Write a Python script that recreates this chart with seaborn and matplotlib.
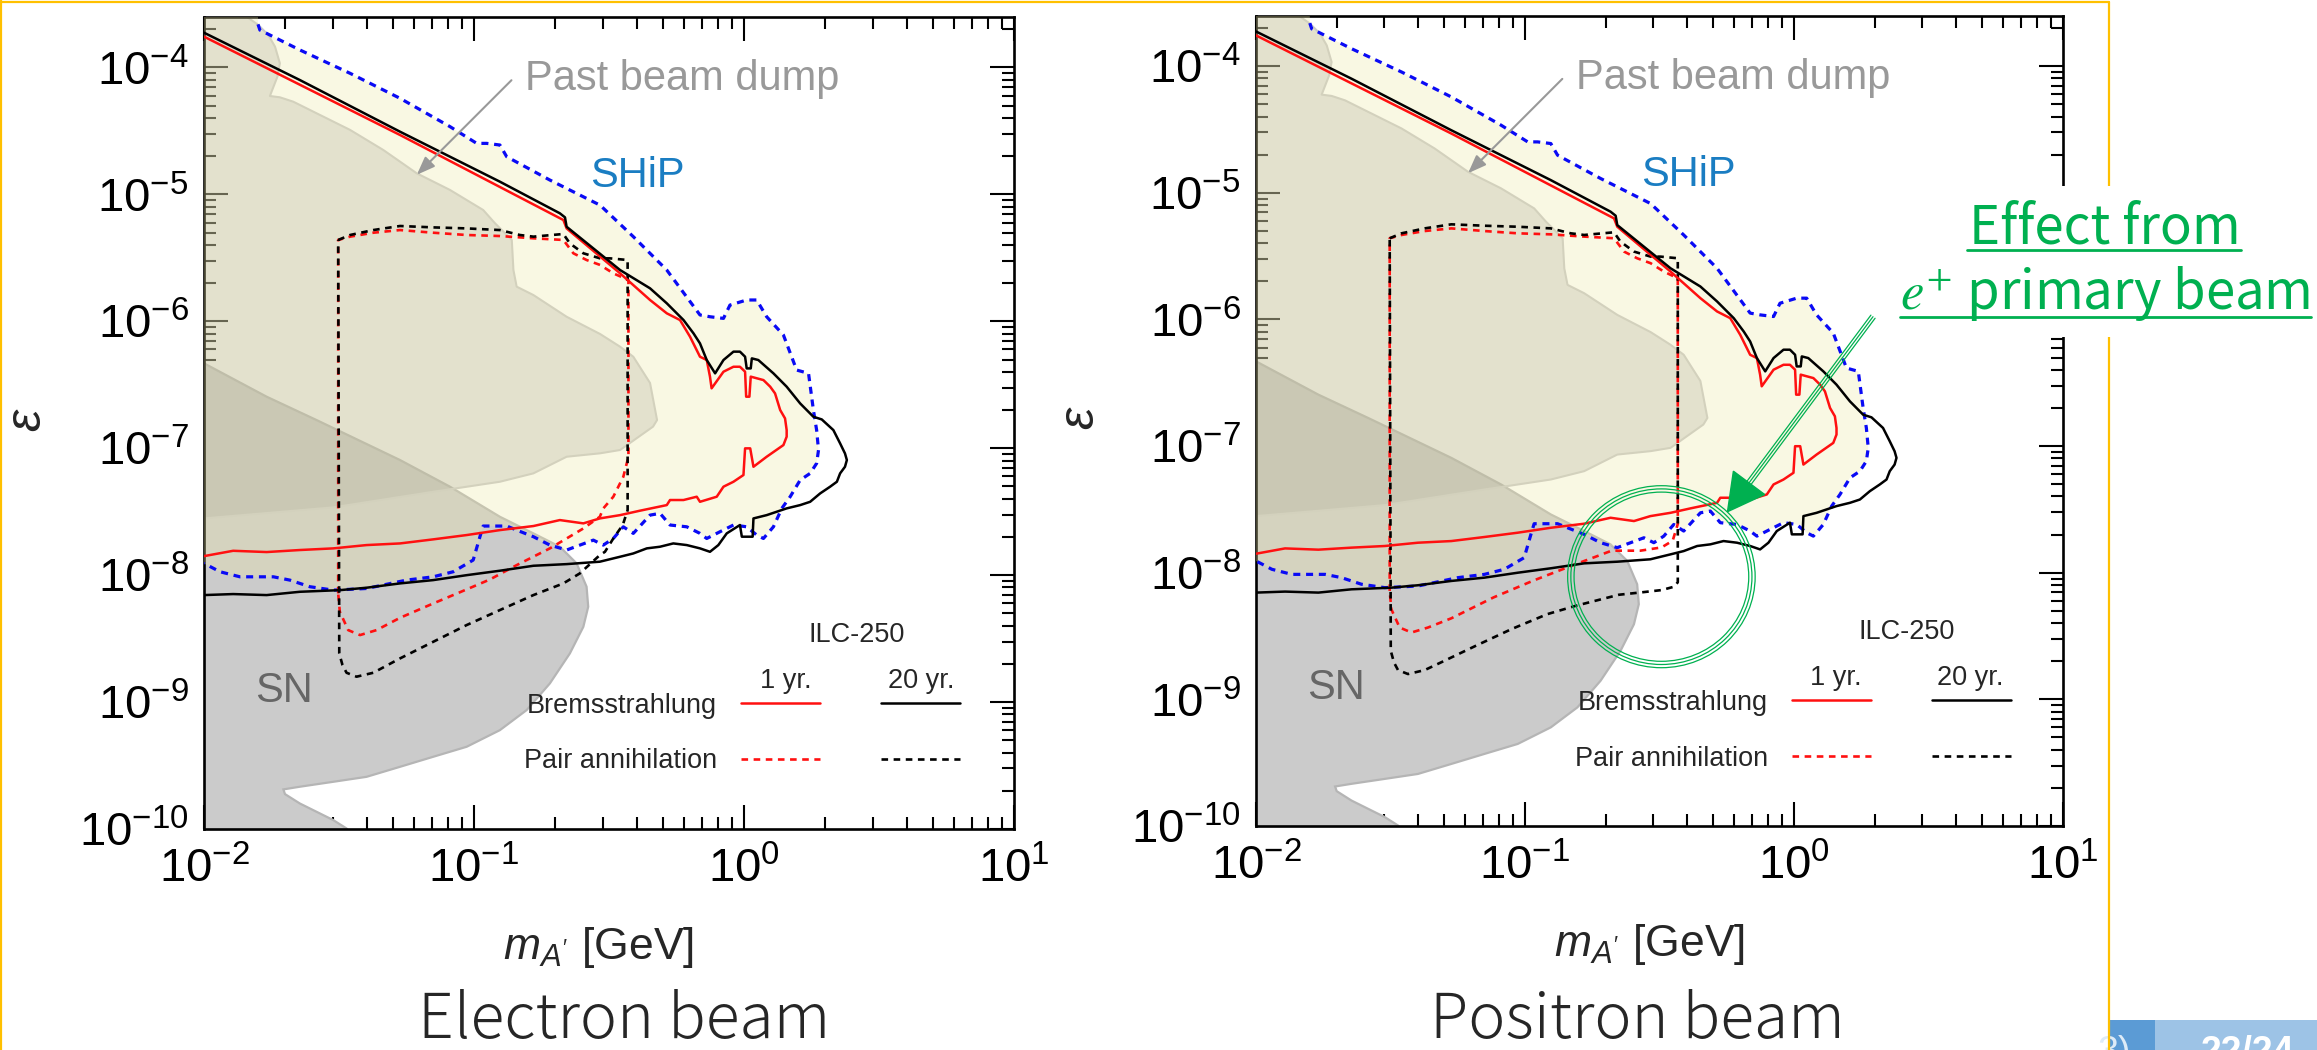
"""
Dark photon reach at ILC-250 beam dump: electron vs positron primary beam.
Two log-log panels (m_A' vs epsilon) with SHiP / past beam dump / SN regions.
"""
import numpy as np
import matplotlib
matplotlib.use("Agg")
import matplotlib.pyplot as plt
import seaborn as sns
from matplotlib.patches import Rectangle, Ellipse, Polygon
from matplotlib.lines import Line2D

sns.set_style("ticks")
plt.rcParams["font.family"] = ["Liberation Sans", "DejaVu Sans"]
plt.rcParams["mathtext.fontset"] = "custom"
plt.rcParams["mathtext.rm"] = "Liberation Sans"
plt.rcParams["mathtext.it"] = "Liberation Sans:italic"
plt.rcParams["mathtext.bf"] = "Liberation Sans:bold"

W, H = 2317, 1050

# ---------------- DATA (log10 of m_A' [GeV] and log10 of epsilon) ----------------
# SHiP projected reach (blue dotted contour, filled light yellow)
ship_logm = [-1.80, -1.793, -1.645, -1.459, -1.274, -1.089, -0.990, -0.953, -0.904, -0.879, -0.719,
             -0.533, -0.410, -0.286, -0.163, -0.126, -0.076, -0.052, 0.010, 0.047, 0.084, 0.146, 0.195,
             0.239, 0.257, 0.269, 0.276, 0.269, 0.245, 0.208, 0.171, 0.140, 0.109, 0.072, 0.047, 0.010,
             -0.039, -0.089, -0.138, -0.163, -0.212, -0.274, -0.311, -0.348, -0.410, -0.447, -0.484,
             -0.521, -0.558, -0.657, -0.719, -0.780, -0.842, -0.879, -0.966, -0.978, -1.003, -1.077,
             -1.151, -1.250, -1.398, -1.521, -1.608, -1.682, -1.743, -1.867, -1.941, -2.0]
ship_logeps = [-3.66, -3.705, -3.862, -4.046, -4.243, -4.466, -4.598, -4.598, -4.611, -4.703, -4.887,
               -5.085, -5.333, -5.596, -5.950, -5.964, -5.977, -5.872, -5.832, -5.832, -5.964, -6.108,
               -6.384, -6.410, -6.699, -6.857, -7.014, -7.119, -7.198, -7.251, -7.382, -7.474, -7.619,
               -7.711, -7.684, -7.619, -7.605, -7.658, -7.711, -7.671, -7.619, -7.605, -7.513, -7.527,
               -7.671, -7.619, -7.711, -7.763, -7.724, -7.802, -7.763, -7.697, -7.645, -7.613, -7.613,
               -7.697, -7.881, -7.973, -8.013, -8.039, -8.105, -8.118, -8.091, -8.039, -8.013, -8.013,
               -7.973, -7.907]

# Past beam dump exclusion
dump_logm = [-2.2, -1.86, -1.842, -1.799, -1.762, -1.737, -1.719, -1.728, -1.756, -1.719, -1.669,
             -1.583, -1.459, -1.336, -1.212, -1.089, -0.966, -0.922, -0.860, -0.854, -0.842, -0.780,
             -0.657, -0.533, -0.459, -0.410, -0.348, -0.322, -0.337, -0.410, -0.459, -0.533, -0.657,
             -0.780, -0.904, -1.151, -1.521, -2.0, -2.2]
dump_logeps = [-3.5, -3.5, -3.600, -3.665, -3.744, -3.836, -3.967, -4.072, -4.225, -4.235, -4.270,
               -4.361, -4.492, -4.650, -4.834, -4.965, -5.123, -5.228, -5.359, -5.596, -5.727, -5.793,
               -5.964, -6.100, -6.200, -6.279, -6.486, -6.778, -6.830, -6.940, -7.014, -7.040, -7.067,
               -7.198, -7.264, -7.343, -7.466, -7.553, -7.56]

# Supernova exclusion (grey)
sn_logm = [-2.2, -2.0, -1.768, -1.583, -1.274, -1.089, -0.904, -0.780, -0.682, -0.620, -0.583,
           -0.577, -0.595, -0.645, -0.719, -0.805, -0.904, -1.027, -1.151, -1.274, -1.398, -1.521,
           -1.645, -1.706, -1.700, -1.645, -1.521, -1.472, -1.40, -2.2]
sn_logeps = [-6.25, -6.331, -6.594, -6.778, -7.093, -7.303, -7.540, -7.671, -7.776, -7.907, -8.091,
             -8.249, -8.407, -8.617, -8.853, -9.063, -9.221, -9.352, -9.431, -9.510, -9.589, -9.628,
             -9.667, -9.688, -9.725, -9.799, -9.930, -9.996, -10.2, -10.2]

# Bremsstrahlung, 20 yr (black solid)
brem20_logm = [-2.0, -1.645, -1.274, -0.904, -0.682, -0.663, -0.657, -0.459, -0.348, -0.286, -0.224,
               -0.187, -0.163, -0.138, -0.107, -0.076, -0.039, -0.015, 0.004, 0.010, 0.025, 0.029,
               0.053, 0.109, 0.158, 0.208, 0.257, 0.288, 0.331, 0.356, 0.374, 0.381, 0.374, 0.356,
               0.344, 0.319, 0.282, 0.245, 0.208, 0.158, 0.084, 0.035, 0.032, -0.008, -0.015, -0.064,
               -0.095, -0.126, -0.163, -0.212, -0.262, -0.311, -0.360, -0.410, -0.459, -0.534, -0.657,
               -0.780, -0.904, -1.027, -1.151, -1.274, -1.398, -1.496, -1.645, -1.768, -1.892, -2.0]
brem20_logeps = [-3.726, -4.099, -4.506, -4.900, -5.149, -5.181, -5.255, -5.596, -5.740, -5.858,
                 -5.990, -6.095, -6.174, -6.305, -6.410, -6.305, -6.239, -6.239, -6.279, -6.371,
                 -6.371, -6.292, -6.305, -6.410, -6.515, -6.647, -6.752, -6.773, -6.857, -6.962,
                 -7.041, -7.093, -7.146, -7.198, -7.264, -7.303, -7.356, -7.422, -7.448, -7.474,
                 -7.527, -7.553, -7.697, -7.697, -7.605, -7.671, -7.763, -7.816, -7.789, -7.763,
                 -7.750, -7.776, -7.789, -7.829, -7.855, -7.894, -7.913, -7.926, -7.965, -8.000,
                 -8.039, -8.065, -8.099, -8.118, -8.131, -8.157, -8.149, -8.157]

# Bremsstrahlung, 1 yr (red solid)
brem1_logm = [-2.0, -1.274, -0.669, -0.657, -0.459, -0.348, -0.286, -0.237, -0.200, -0.163, -0.138,
              -0.126, -0.120, -0.076, -0.039, -0.015, 0.004, 0.008, 0.020, 0.025, 0.072, 0.097, 0.115,
              0.134, 0.152, 0.158, 0.158, 0.146, 0.084, 0.035, 0.023, 0.004, -0.002, -0.039, -0.076,
              -0.101, -0.163, -0.175, -0.224, -0.274, -0.286, -0.385, -0.459, -0.534, -0.595, -0.682,
              -0.780, -0.904, -1.027, -1.151, -1.274, -1.398, -1.521, -1.645, -1.768, -1.892, -2.0]
brem1_logeps = [-3.757, -4.532, -5.202, -5.268, -5.622, -5.832, -5.937, -5.990, -6.121, -6.279,
                -6.305, -6.436, -6.528, -6.397, -6.358, -6.358, -6.397, -6.594, -6.594, -6.436,
                -6.463, -6.515, -6.568, -6.699, -6.765, -6.857, -6.909, -6.975, -7.067, -7.146,
                -7.001, -7.001, -7.211, -7.264, -7.303, -7.382, -7.422, -7.382, -7.408, -7.408,
                -7.448, -7.492, -7.527, -7.553, -7.592, -7.566, -7.613, -7.645, -7.684, -7.718,
                -7.750, -7.763, -7.789, -7.802, -7.818, -7.808, -7.850]

# Pair annihilation, electron beam
pair1_e_logm = [-1.503, -1.503, -1.459, -1.373, -1.274, -1.151, -1.027, -0.904, -0.780, -0.669,
                -0.632, -0.583, -0.533, -0.484, -0.428, -0.428, -0.447, -0.484, -0.521, -0.534,
                -0.595, -0.657, -0.719, -0.842, -0.941, -1.027, -1.151, -1.274, -1.361, -1.422,
                -1.466, -1.497, -1.503]
pair1_e_logeps = [-8.144, -5.359, -5.333, -5.302, -5.281, -5.302, -5.320, -5.328, -5.346, -5.359,
                  -5.464, -5.517, -5.556, -5.622, -5.675, -7.067, -7.225, -7.382, -7.474, -7.540,
                  -7.632, -7.711, -7.789, -7.921, -8.034, -8.112, -8.223, -8.336, -8.433, -8.472,
                  -8.433, -8.288, -8.144]
pair20_e_logm = [-1.503, -1.459, -1.373, -1.274, -1.151, -1.027, -0.904, -0.830, -0.780, -0.669,
                 -0.645, -0.595, -0.533, -0.496, -0.431, -0.431, -0.449, -0.484, -0.515, -0.534,
                 -0.608, -0.669, -0.780, -0.904, -1.027, -1.151, -1.274, -1.373, -1.435, -1.472,
                 -1.487, -1.499, -1.503]
pair20_e_logeps = [-5.359, -5.320, -5.281, -5.249, -5.260, -5.268, -5.281, -5.320, -5.333, -5.312,
                   -5.386, -5.464, -5.504, -5.504, -5.517, -7.487, -7.605, -7.711, -7.816, -7.842,
                   -7.986, -8.065, -8.157, -8.275, -8.393, -8.525, -8.656, -8.769, -8.800, -8.769,
                   -8.709, -8.617, -5.359]

# Pair annihilation, positron beam
pair1_p_logm = [-1.503, -1.503, -1.459, -1.373, -1.274, -1.151, -1.027, -0.904, -0.780, -0.669,
                -0.632, -0.583, -0.533, -0.484, -0.432, -0.432, -0.451, -0.492, -0.571, -0.678,
                -0.744, -0.811, -0.970, -1.117, -1.274, -1.361, -1.422, -1.466, -1.497, -1.503]
pair1_p_logeps = [-8.144, -5.359, -5.333, -5.302, -5.281, -5.302, -5.320, -5.328, -5.346, -5.359,
                  -5.464, -5.517, -5.556, -5.622, -5.675, -7.615, -7.747, -7.800, -7.826, -7.826,
                  -7.879, -7.932, -8.063, -8.195, -8.360, -8.433, -8.472, -8.433, -8.288, -8.144]
pair20_p_logm = [-1.503, -1.459, -1.373, -1.274, -1.151, -1.027, -0.904, -0.830, -0.780, -0.669,
                 -0.645, -0.595, -0.533, -0.496, -0.432, -0.432, -0.445, -0.492, -0.571, -0.651,
                 -0.811, -0.917, -1.050, -1.183, -1.316, -1.373, -1.435, -1.472, -1.487, -1.499,
                 -1.503]
pair20_p_logeps = [-5.359, -5.320, -5.281, -5.249, -5.260, -5.268, -5.281, -5.320, -5.333, -5.312,
                   -5.386, -5.464, -5.504, -5.504, -5.517, -8.075, -8.110, -8.137, -8.156, -8.174,
                   -8.261, -8.327, -8.445, -8.577, -8.712, -8.769, -8.800, -8.769, -8.709, -8.617,
                   -5.359]

RED = "#FF1010"
BLUE = "#0A0AF5"
GREEN = "#00B050"


def lin(v):
    return 10.0 ** np.asarray(v, dtype=float)


def draw_panel(ax, p1_m, p1_e, p20_m, p20_e):
    ax.set_xscale("log")
    ax.set_yscale("log")

    # regions: SN, then past beam dump (translucent grey), then SHiP (translucent yellow)
    ax.fill(lin(sn_logm), lin(sn_logeps), fc="#CBCBCB", ec="#B5B5B5", lw=1.6, zorder=1)
    ax.fill(lin(dump_logm), lin(dump_logeps), fc=(150/255, 150/255, 150/255), alpha=0.3,
            ec="none", zorder=2)
    ax.plot(lin(dump_logm), lin(dump_logeps), color="#C8C8C8", lw=1.5, zorder=2)
    ship_fill_m = ship_logm + [-2.2, -2.2, -1.80]
    ship_fill_e = ship_logeps + [-7.907, -3.5, -3.5]
    ax.fill(lin(ship_fill_m), lin(ship_fill_e), fc=(238/255, 232/255, 165/255), alpha=0.3,
            ec="none", zorder=3)

    # contours
    sns.lineplot(x=lin(ship_logm), y=lin(ship_logeps), sort=False, estimator=None, ax=ax,
                 color=BLUE, lw=2.3, linestyle=(0, (2.2, 1.8)), legend=False, zorder=4)
    sns.lineplot(x=lin(p1_m), y=lin(p1_e), sort=False, estimator=None, ax=ax,
                 color=RED, lw=1.9, linestyle=(0, (2.5, 2.1)), legend=False, zorder=5)
    h_p1 = ax.lines[-1]
    sns.lineplot(x=lin(p20_m), y=lin(p20_e), sort=False, estimator=None, ax=ax,
                 color="black", lw=1.9, linestyle=(0, (2.5, 2.1)), legend=False, zorder=5)
    h_p20 = ax.lines[-1]
    sns.lineplot(x=lin(brem1_logm), y=lin(brem1_logeps), sort=False, estimator=None, ax=ax,
                 color=RED, lw=1.8, legend=False, zorder=6)
    h_b1 = ax.lines[-1]
    sns.lineplot(x=lin(brem20_logm), y=lin(brem20_logeps), sort=False, estimator=None, ax=ax,
                 color="black", lw=1.8, legend=False, zorder=6)
    h_b20 = ax.lines[-1]

    ax.set_xlim(1e-2, 1e1)
    ax.set_ylim(1e-10, 10 ** -3.6)

    # labels inside the plot
    ax.text(10 ** -0.811, 10 ** -4.18, "Past beam dump", color="#999999", fontsize=30,
            va="baseline", ha="left", zorder=8)
    ax.annotate("", xy=(10 ** -1.219, 10 ** -4.861), xytext=(10 ** -0.854, 10 ** -4.085),
                arrowprops=dict(arrowstyle="-|>,head_length=1.1,head_width=0.42",
                                color="#999999", lw=1.5), zorder=8)
    ax.text(10 ** -0.570, 10 ** -4.945, "SHiP", color="#1A7DC2", fontsize=30,
            va="baseline", ha="left", zorder=8)
    ax.text(10 ** -1.811, 10 ** -8.998, "SN", color="#666666", fontsize=30,
            va="baseline", ha="left", zorder=8)

    # legend block
    ax.text(0.746, 0.2306, "ILC-250", transform=ax.transAxes, fontsize=19.5, va="baseline")
    ax.text(0.686, 0.1736, "1 yr.", transform=ax.transAxes, fontsize=19.5, va="baseline")
    ax.text(0.844, 0.1736, "20 yr.", transform=ax.transAxes, fontsize=19.5, va="baseline")
    ax.legend(handles=[h_b1, h_p1, h_b20, h_p20],
              labels=["Bremsstrahlung", "Pair annihilation", "", ""],
              ncol=2, markerfirst=False, frameon=False, fontsize=19.5,
              handlelength=2.9, handletextpad=0.9, columnspacing=1.37, labelspacing=1.1,
              loc="upper left", bbox_to_anchor=(0.395, 0.168), borderpad=0, borderaxespad=0)

    # axes styling
    for s in ax.spines.values():
        s.set_linewidth(1.9)
        s.set_color("black")
        s.set_visible(True)
    ax.tick_params(which="both", direction="in", top=True, right=True, colors="black")
    ax.tick_params(which="major", length=17, width=1.5, labelsize=34)
    ax.tick_params(which="minor", length=8.3, width=1.5)
    ax.tick_params(axis="y", which="major", pad=11)
    ax.tick_params(axis="x", which="major", pad=13)
    ax.set_xlabel(r"$m_{A'}$ [GeV]", fontsize=32)
    ax.set_ylabel("ε", fontsize=36, style="italic", va="center")
    ax.xaxis.set_label_coords(0.487, -0.118)
    ax.yaxis.set_label_coords(-0.218, 0.503)


fig = plt.figure(figsize=(W / 100, H / 100), dpi=100)
axL = fig.add_axes([204 / W, 1 - 829 / H, 810 / W, 812.3 / H])
axR = fig.add_axes([1256 / W, 1 - 826 / H, 807 / W, 810.5 / H])
draw_panel(axL, pair1_e_logm, pair1_e_logeps, pair20_e_logm, pair20_e_logeps)
draw_panel(axR, pair1_p_logm, pair1_p_logeps, pair20_p_logm, pair20_p_logeps)


def fx(px):
    return px / W


def fy(py):
    return 1 - py / H


# panel captions
fig.text(fx(624), fy(1038), "Electron beam", ha="center", va="baseline", fontsize=45,
         family=["Noto Sans CJK JP", "DejaVu Sans"], weight="light")
fig.text(fx(1637), fy(1038), "Positron beam", ha="center", va="baseline", fontsize=45,
         family=["Noto Sans CJK JP", "DejaVu Sans"], weight="light")

# slide frame (orange) and footer
ORANGE = "#FFC000"
fig.add_artist(Line2D([fx(1), fx(1)], [fy(0), fy(1050)], color=ORANGE, lw=1.6, zorder=9))
fig.add_artist(Line2D([fx(0), fx(2109)], [fy(2), fy(2)], color=ORANGE, lw=1.6, zorder=9))
fig.add_artist(Line2D([fx(2108.5), fx(2108.5)], [fy(2), fy(1050)], color=ORANGE, lw=1.6, zorder=9))
fig.add_artist(Rectangle((fx(2109.5), fy(1050)), (2155 - 2109.5) / W, 30 / H,
                         transform=fig.transFigure, fc="#5B9BD5", ec="none", zorder=8))
fig.add_artist(Rectangle((fx(2155), fy(1050)), (2317 - 2155) / W, 30 / H,
                         transform=fig.transFigure, fc="#9DC3E6", ec="none", zorder=8))
fig.text(fx(2248), fy(1063), "22/24", ha="center", va="baseline", fontsize=27, color="white",
         weight="bold", zorder=9)
fig.text(fx(2131), fy(1063), "3)", ha="right", va="baseline", fontsize=27, color="#DDEBF7",
         zorder=8.5)

# white box behind the green callout
fig.add_artist(Rectangle((fx(1876), fy(337)), (2317 - 1876) / W, (337 - 186) / H,
                         transform=fig.transFigure, fc="white", ec="none", zorder=10))
fig.text(fx(2105), fy(243), "Effect from", ha="center", va="baseline", fontsize=38, color=GREEN,
         family=["Noto Sans CJK JP", "DejaVu Sans"], zorder=11)
fig.text(fx(2105), fy(309), r"$e^{+}$ primary beam", ha="center", va="baseline", fontsize=38,
         color=GREEN, family=["Noto Sans CJK JP", "DejaVu Sans"], math_fontfamily="stix",
         zorder=11)
fig.add_artist(Line2D([fx(1967), fx(2241)], [fy(249.5), fy(249.5)], color=GREEN, lw=2, zorder=11))
fig.add_artist(Line2D([fx(1900), fx(2311)], [fy(316.5), fy(316.5)], color=GREEN, lw=2, zorder=11))

# green triple-line circle
for dr in (0.0, 3.2, 6.4):
    fig.add_artist(Ellipse((fx(1661.4), fy(576.7)), 2 * (93.75 - dr) / W, 2 * (91 - dr) / H,
                           transform=fig.transFigure, fill=False, ec=GREEN, lw=0.9, zorder=12))

# green triple-line arrow
tail = np.array([1873.0, 316.7])
tip = np.array([1727.5, 511.7])
u = (tip - tail) / np.hypot(*(tip - tail))
nrm = np.array([-u[1], u[0]])
base = tip - 36 * u
for off in (-2.6, 0.0, 2.6):
    a = tail + off * nrm
    b = base + off * nrm
    fig.add_artist(Line2D([fx(a[0]), fx(b[0])], [fy(a[1]), fy(b[1])], color=GREEN, lw=0.9,
                          zorder=12))
head = [tip, base + 19.5 * nrm, base - 19.5 * nrm]
fig.add_artist(Polygon([(fx(p[0]), fy(p[1])) for p in head], closed=True,
                       transform=fig.transFigure, fc=GREEN, ec=GREEN, zorder=12))

fig.savefig("out.png", dpi=100)
